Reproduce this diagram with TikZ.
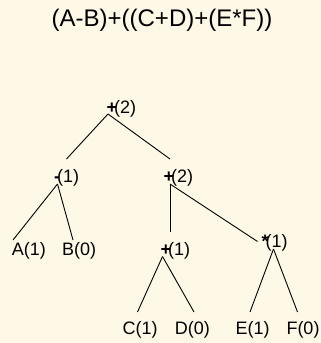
\documentclass[tikz,border=0pt]{standalone}
\usepackage{fontspec}
\setmainfont{Liberation Sans}
\usepackage{tikz}
\definecolor{bgcream}{RGB}{253,249,230}

\newcommand{\opl}[2]{\textbf{#1}\kern-3pt(#2)}

\begin{document}
\begin{tikzpicture}[x=1pt, y=-1pt, every node/.style={font=\fontsize{18}{20}\selectfont}]
    \tikzset{
      lbl/.style={anchor=base west, inner sep=0pt, text=black},
      edge/.style={draw=black, line width=0.9pt}}
    \path[use as bounding box, fill=bgcream] (0,0) rectangle (321,343);
    \node[anchor=base, inner sep=0pt, font=\fontsize{24}{28}\selectfont] (title) at (162,26.7) {(A-B)+((C+D)+(E*F))};
    \node[lbl] (root)  at (106.5,113)  {\opl{+}{2}};
    \node[lbl] (minus) at (54,182)     {\opl{-}{1}};
    \node[lbl] (sum)   at (163.5,182)  {\opl{+}{2}};
    \node[lbl] (la)    at (11.7,255)   {A(1)};
    \node[lbl] (lb)    at (62,255)     {B(0)};
    \node[lbl] (plus)  at (160.3,255)  {\opl{+}{1}};
    \node[lbl] (star)  at (261.5,247.5){\opl{*}{1}};
    \node[lbl] (lc)    at (122.4,334)  {C(1)};
    \node[lbl] (ld)    at (174.6,334)  {D(0)};
    \node[lbl] (le)    at (235.3,334)  {E(1)};
    \node[lbl] (lf)    at (286.3,334)  {F(0)};
    \coordinate (root-out)  at (108,114);
    \coordinate (minus-in)  at (66.5,159);
    \coordinate (minus-out) at (57.5,184);
    \coordinate (sum-in)    at (170,159);
    \coordinate (sum-out)   at (170,184);
    \coordinate (la-in)     at (13,240);
    \coordinate (lb-in)     at (73,240);
    \coordinate (plus-in)   at (170,232);
    \coordinate (plus-out)  at (162.5,256.5);
    \coordinate (star-in)   at (257.5,241.5);
    \coordinate (star-out)  at (273.5,249);
    \coordinate (lc-in)     at (137.5,312);
    \coordinate (ld-in)     at (194,312);
    \coordinate (le-in)     at (250,312);
    \coordinate (lf-in)     at (297.5,312);
    \draw[edge] (root-out) -- (minus-in);
    \draw[edge] (root-out) -- (sum-in);
    \draw[edge] (minus-out) -- (la-in);
    \draw[edge] (minus-out) -- (lb-in);
    \draw[edge] (sum-out) -- (plus-in);
    \draw[edge] (sum-out) -- (star-in);
    \draw[edge] (plus-out) -- (lc-in);
    \draw[edge] (plus-out) -- (ld-in);
    \draw[edge] (star-out) -- (le-in);
    \draw[edge] (star-out) -- (lf-in);
\end{tikzpicture}
\end{document}
